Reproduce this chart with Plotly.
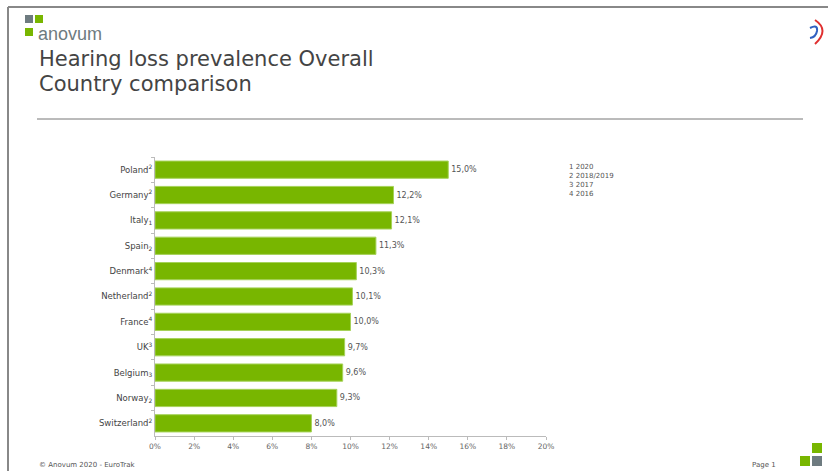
import plotly.graph_objects as go

W, H = 835, 471

countries = ["Poland", "Germany", "Italy", "Spain", "Denmark", "Netherland",
             "France", "UK", "Belgium", "Norway", "Switzerland"]
footnotes = ["<sup>2</sup>", "<sup>2</sup>", "<sub>1</sub>", "<sub>2</sub>", "<sup>4</sup>", "<sup>2</sup>",
             "<sup>4</sup>", "<sup>3</sup>", "<sub>3</sub>", "<sub>2</sub>", "<sup>2</sup>"]
values = [15.0, 12.2, 12.1, 11.3, 10.3, 10.1, 10.0, 9.7, 9.6, 9.3, 8.0]
x_ticks = [0, 2, 4, 6, 8, 10, 12, 14, 16, 18, 20]
x_ticktext = [f"{t}%" for t in x_ticks]
legend_lines = ["1 2020", "2 2018/2019", "3 2017", "4 2016"]

def px(x):
    return x / W

def py(y):
    return 1 - y / H

labels = [c + f for c, f in zip(countries, footnotes)]

fig = go.Figure(go.Bar(
    x=values, y=labels, orientation="h",
    marker=dict(color="#78b600", line=dict(color="#a6d25a", width=1)),
    texttemplate="%{x:.1f}%", textposition="outside",
    textfont=dict(family="DejaVu Sans", size=8, color="#555"),
    cliponaxis=False, hoverinfo="skip",
))

fig.update_layout(
    width=W, height=H, margin=dict(l=0, r=0, t=0, b=0, autoexpand=False),
    paper_bgcolor="white", plot_bgcolor="white",
    separators=",.", showlegend=False, bargap=0.32,
    font=dict(family="DejaVu Sans", color="#444"),
    xaxis=dict(domain=[px(155), px(546)], range=[0, 20], tickvals=x_ticks,
               ticktext=x_ticktext, showgrid=False, zeroline=False, automargin=False,
               showline=True, linecolor="#bbb", linewidth=1,
               ticks="outside", ticklen=3, tickcolor="#bbb",
               tickfont=dict(family="DejaVu Sans", size=7.5, color="#666")),
    yaxis=dict(domain=[py(436), py(157)], autorange="reversed", automargin=False,
               showgrid=False, showline=True, linecolor="#bbb", linewidth=1,
               ticks="outside", ticklen=3, tickcolor="#bbb", tickson="boundaries",
               tickfont=dict(family="DejaVu Sans", size=8.5, color="#444")),
)

shapes = []
# frame
shapes.append(dict(type="line", xref="paper", yref="paper", x0=px(8), x1=px(8), y0=py(7), y1=0,
                   line=dict(color="#888", width=2)))
shapes.append(dict(type="line", xref="paper", yref="paper", x0=px(8), x1=px(828), y0=py(7), y1=py(7),
                   line=dict(color="#888", width=2)))
# separator
shapes.append(dict(type="line", xref="paper", yref="paper", x0=px(37), x1=px(803), y0=py(119), y1=py(119),
                   line=dict(color="#777", width=1)))
# logo squares
def sq(x0, y0, s, color):
    return dict(type="rect", xref="paper", yref="paper", x0=px(x0), x1=px(x0 + s),
                y0=py(y0 + s), y1=py(y0), fillcolor=color, line=dict(width=0), layer="above")
shapes += [sq(25, 15, 8, "#6e7b80"), sq(35, 15, 8, "#78b600"), sq(25, 28, 8, "#78b600")]
shapes += [sq(812, 443, 10, "#78b600"), sq(800, 456, 10, "#78b600"), sq(812, 456, 10, "#6e7b80")]
# ear logo
shapes.append(dict(type="path", xref="paper", yref="paper",
                   path=f"M {px(815)},{py(20)} Q {px(830)},{py(30)} {px(815)},{py(44)}",
                   line=dict(color="#e03030", width=2)))
shapes.append(dict(type="path", xref="paper", yref="paper",
                   path=f"M {px(810)},{py(28)} Q {px(818)},{py(24)} {px(817)},{py(31)} Q {px(816)},{py(37)} {px(810)},{py(38)}",
                   line=dict(color="#3060c0", width=2)))
fig.update_layout(shapes=shapes)

ann = []
ann.append(dict(text="anovum", x=px(36), y=py(34), xref="paper", yref="paper", xanchor="left",
                yanchor="middle", showarrow=False,
                font=dict(family="Liberation Sans", size=18, color="#6e7b80")))
ann.append(dict(text="Hearing loss prevalence Overall", x=px(37), y=py(59), xref="paper", yref="paper",
                xanchor="left", yanchor="middle", showarrow=False,
                font=dict(family="DejaVu Sans", size=21, color="#444")))
ann.append(dict(text="Country comparison", x=px(37), y=py(84), xref="paper", yref="paper",
                xanchor="left", yanchor="middle", showarrow=False,
                font=dict(family="DejaVu Sans", size=21, color="#444")))
ann.append(dict(text="<br>".join(legend_lines), x=px(567), y=py(161), xref="paper", yref="paper",
                xanchor="left", yanchor="top", showarrow=False, align="left",
                font=dict(family="DejaVu Sans", size=7, color="#555")))
ann.append(dict(text="© Anovum 2020 - EuroTrak", x=px(37), y=py(465), xref="paper", yref="paper",
                xanchor="left", yanchor="middle", showarrow=False,
                font=dict(family="DejaVu Sans", size=7, color="#555")))
ann.append(dict(text="Page 1", x=px(750), y=py(465), xref="paper", yref="paper",
                xanchor="left", yanchor="middle", showarrow=False,
                font=dict(family="DejaVu Sans", size=7, color="#555")))
fig.update_layout(annotations=ann)

fig.write_html("out.html")
